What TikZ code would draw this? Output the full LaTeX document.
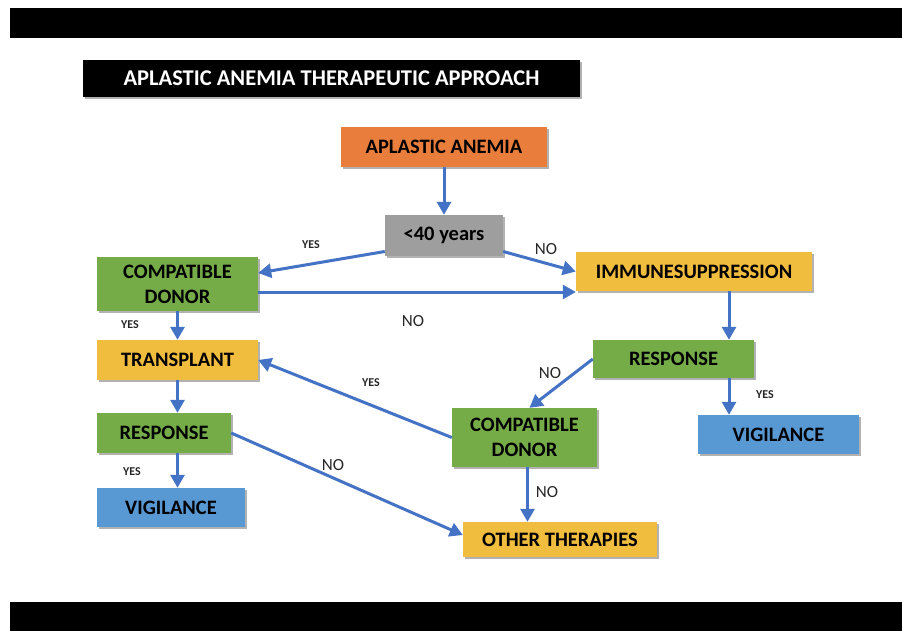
\documentclass[tikz,border=0pt]{standalone}
\usepackage{fontspec}
\setmainfont{Carlito}
\usepackage{tikz}
\usetikzlibrary{calc,shadows,arrows.meta}
\definecolor{aaorange}{RGB}{233,125,60}
\definecolor{agegray}{RGB}{158,158,158}
\definecolor{boxgreen}{RGB}{117,172,72}
\definecolor{boxyellow}{RGB}{240,189,62}
\definecolor{boxblue}{RGB}{88,152,211}
\definecolor{arrowblue}{RGB}{68,114,196}

\begin{document}
\begin{tikzpicture}[x=1pt,y=-1pt,
	box/.style={rectangle, inner sep=0pt, align=center, text=black,
		font=\fontsize{20.5}{25}\selectfont\bfseries,
		drop shadow={shadow xshift=1.5pt,shadow yshift=-2pt,fill=black,opacity=.3}},
	arr/.style={draw=arrowblue, line width=3pt, -{Triangle[length=13pt,width=14pt]}},
	yeslbl/.style={font=\fontsize{12}{14}\selectfont\bfseries, text=black!85},
	nolbl/.style={font=\fontsize{17}{19}\selectfont, text=black!85}]
	\useasboundingbox (0,0) rectangle (902,631);
	\fill (10,8) rectangle (902,38);
	\fill (10,602) rectangle (902,631);
	\node[box, fill=black, text=white, minimum width=497pt, minimum height=37pt, font=\fontsize{22.5}{24}\selectfont\bfseries] (title) at (331.5,78.5) {APLASTIC ANEMIA THERAPEUTIC APPROACH};

	\node[box, fill=aaorange, minimum width=206pt, minimum height=40pt] (aa) at (444,147) {APLASTIC ANEMIA};
	\node[box, fill=agegray, minimum width=118pt, minimum height=41pt] (age) at (444,235.5) {<40 years};
	\node[box, fill=boxgreen, minimum width=161pt, minimum height=54pt] (cdl) at (177.5,284) {COMPATIBLE\\DONOR};
	\node[box, fill=boxyellow, minimum width=236pt, minimum height=39pt] (imm) at (694,271.5) {IMMUNESUPPRESSION};
	\node[box, fill=boxyellow, minimum width=161pt, minimum height=40pt] (tx) at (177.5,360) {TRANSPLANT};
	\node[box, fill=boxgreen, minimum width=161pt, minimum height=38pt] (rsr) at (673.5,359) {RESPONSE};
	\node[box, fill=boxgreen, minimum width=134pt, minimum height=40pt] (rsl) at (164,433) {RESPONSE};
	\node[box, fill=boxblue, minimum width=148pt, minimum height=39pt] (vgl) at (171,507.5) {VIGILANCE};
	\node[box, fill=boxgreen, minimum width=145pt, minimum height=59pt] (cdm) at (524.5,437.5) {COMPATIBLE\\DONOR};
	\node[box, fill=boxblue, minimum width=161pt, minimum height=39pt] (vgr) at (778.5,434.5) {VIGILANCE};
	\node[box, fill=boxyellow, minimum width=194pt, minimum height=35pt] (oth) at (560,539.5) {OTHER THERAPIES};

	\coordinate (dn) at ($(cdl.east)+(0,8)$);
	\coordinate (ia) at ($(imm.south)+(35,0)$);
	\coordinate (cb) at ($(cdm.south)+(3,0)$);

	\draw[arr] (aa.south) -- (aa.south |- age.north);
	\draw[arr] ($(age.west)+(0,16)$) -- ($(cdl.east)+(0,-11)$);
	\draw[arr] ($(age.east)+(0,16)$) -- (imm.west);
	\draw[arr] (dn) -- (dn -| imm.west);
	\draw[arr] (cdl.south) -- (tx.north);
	\draw[arr] (tx.south) -- (tx.south |- rsl.north);
	\draw[arr] (tx.south |- rsl.south) -- (tx.south |- vgl.north);
	\draw[arr] (rsl.east) -- ($(oth.west)+(0,-4.5)$);
	\draw[arr] (cdm.west) -- (tx.east);
	\draw[arr] (rsr.west) -- ($(cdm.north)+(5,0)$);
	\draw[arr] (ia) -- (ia |- rsr.north);
	\draw[arr] (ia |- rsr.south) -- (ia |- vgr.north);
	\draw[arr] (cb) -- (cb |- oth.north);

	\node[yeslbl] (y1) at (311,245) {YES};
	\node[nolbl] (n1) at (546,249) {NO};
	\node[nolbl] (n2) at (413,321) {NO};
	\node[yeslbl] (y2) at (130,325) {YES};
	\node[yeslbl] (y3) at (132,472) {YES};
	\node[nolbl] (n3) at (333,465) {NO};
	\node[yeslbl] (y4) at (371,383) {YES};
	\node[nolbl] (n4) at (550,373) {NO};
	\node[yeslbl] (y5) at (765,395) {YES};
	\node[nolbl] (n5) at (547,492) {NO};
\end{tikzpicture}
\end{document}
